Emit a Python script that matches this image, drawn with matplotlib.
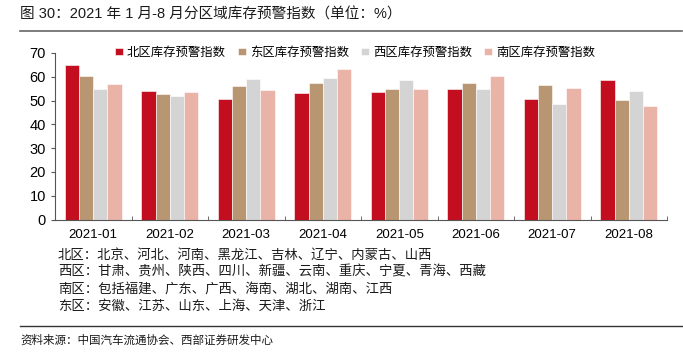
import matplotlib.pyplot as plt
import numpy as np

plt.rcParams['font.family'] = ['Liberation Sans', 'Noto Sans CJK SC', 'DejaVu Sans']

# 月份
months = ['2021-01', '2021-02', '2021-03', '2021-04',
          '2021-05', '2021-06', '2021-07', '2021-08']

# 各区库存预警指数
north = [65.1, 54.0, 50.7, 53.3, 53.8, 55.0, 50.7, 58.7]
east = [60.2, 52.6, 56.1, 57.4, 54.9, 57.3, 56.4, 50.1]
west = [55.0, 52.1, 59.1, 59.5, 58.8, 55.0, 48.7, 54.0]
south = [56.8, 53.5, 54.3, 63.1, 54.7, 60.5, 55.2, 47.9]

series_names = ['北区库存预警指数', '东区库存预警指数', '西区库存预警指数', '南区库存预警指数']
colors = ['#C20E1E', '#B99672', '#D4D4D4', '#EAB3A8']

notes = ['北区：北京、河北、河南、黑龙江、吉林、辽宁、内蒙古、山西',
         '西区：甘肃、贵州、陕西、四川、新疆、云南、重庆、宁夏、青海、西藏',
         '南区：包括福建、广东、广西、海南、湖北、湖南、江西',
         '东区：安徽、江苏、山东、上海、天津、浙江']

fig = plt.figure(figsize=(6.83, 3.6), dpi=100)
ax = fig.add_axes([55 / 683, 1 - 219.5 / 360, 612 / 683, 166.5 / 360])

x = np.arange(len(months))
w = 0.185
for i, (vals, name, c) in enumerate(zip([north, east, west, south], series_names, colors)):
    ax.bar(x + (i - 1.5) * w, vals, w, color=c, label=name, edgecolor='white', linewidth=0.4)

ax.set_xlim(-0.5, len(months) - 0.5)
ax.set_ylim(0, 70)
ax.set_yticks(range(0, 71, 10))
ax.set_xticks(x)
ax.set_xticklabels(months)
ax.set_xticks(np.arange(-0.5, len(months), 1), minor=True)
ax.tick_params(axis='x', which='major', length=0, labelsize=9.5, pad=7)
ax.tick_params(axis='x', which='minor', length=3, direction='in', color='#555555')
ax.tick_params(axis='y', length=3, labelsize=10.5, color='#555555')
for s in ['top', 'right']:
    ax.spines[s].set_visible(False)
ax.spines['left'].set_color('#555555')
ax.spines['bottom'].set_color('#555555')

ax.legend(loc='upper left', bbox_to_anchor=(0.08, 1.11), ncol=4, frameon=False,
          handlelength=0.6, handleheight=0.6, handletextpad=0.35,
          columnspacing=1.0, prop={'family': ['Noto Sans CJK SC'], 'size': 8.9})

# 标题与注释
fig.text(20 / 683, 1 - 15 / 360, '图 30：2021 年 1 月-8 月分区域库存预警指数（单位：%）',
         fontsize=10.5, va='center', ha='left', color='#1a1a1a')
fig.add_artist(plt.Line2D([20 / 683, 682 / 683], [1 - 31 / 360] * 2, color='#666666', lw=1.2))

for k, t in enumerate(notes):
    fig.text(58 / 683, 1 - (255 + k * 16.8) / 360, t, fontsize=9.6, va='center', ha='left',
             family=['Noto Sans CJK SC'], color='#1a1a1a')

fig.add_artist(plt.Line2D([20 / 683, 682 / 683], [1 - 326 / 360] * 2, color='#333333', lw=1.0))
fig.text(20 / 683, 1 - 340 / 360, '资料来源：中国汽车流通协会、西部证券研发中心',
         fontsize=8.3, va='center', ha='left', family=['Noto Sans CJK SC'], color='#1a1a1a')

fig.savefig('out.png', dpi=100)
plt.close()
